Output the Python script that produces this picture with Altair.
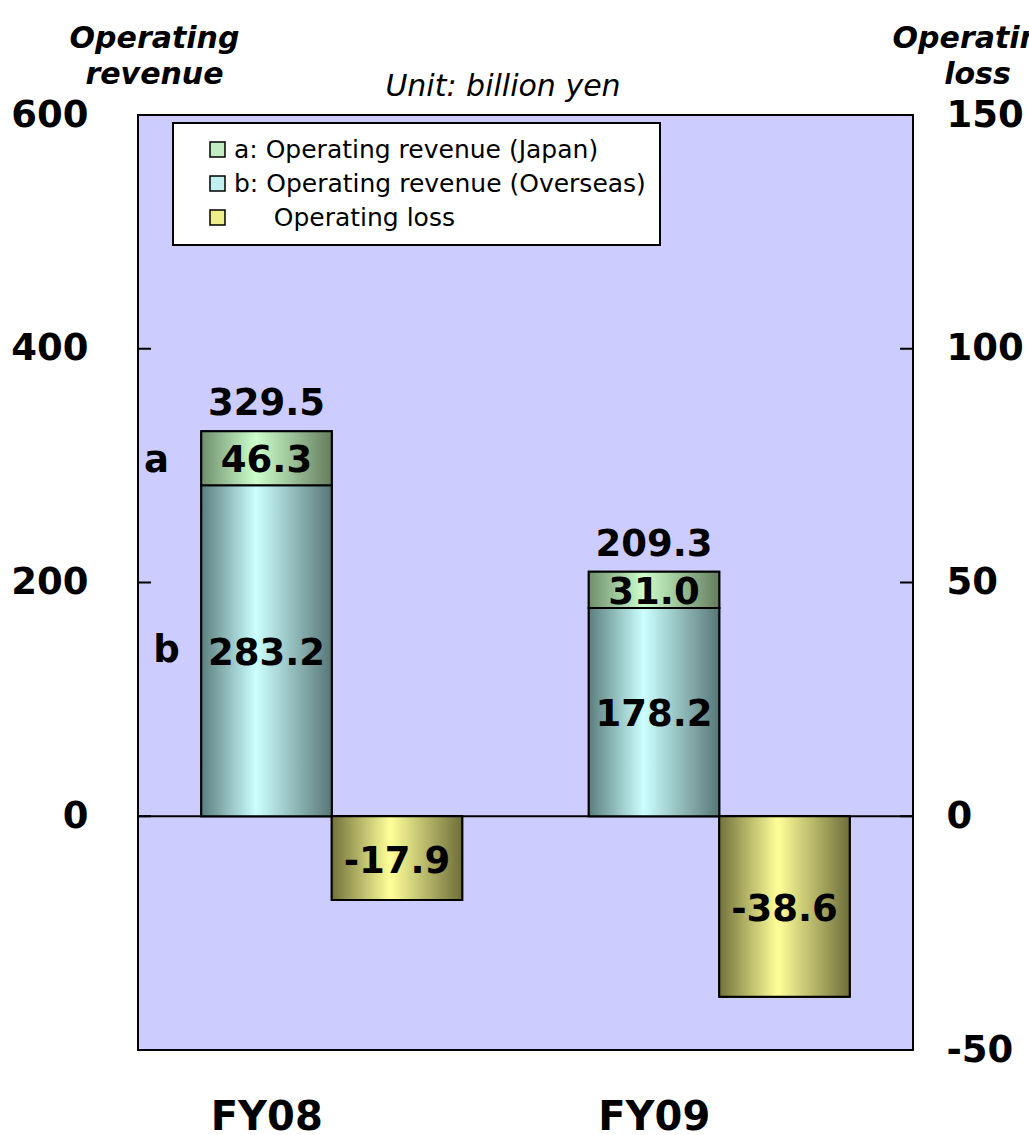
import altair as alt
import pandas as pd

# ---- figures (billion yen) ----
years = ["FY08", "FY09"]
revenue_japan = [46.3, 31.0]
revenue_overseas = [283.2, 178.2]
revenue_total = [329.5, 209.3]
operating_loss = [-17.9, -38.6]

series_names = [
    "a: Operating revenue (Japan)",
    "b: Operating revenue (Overseas)",
    "Operating loss",
]
swatch_colors = ["#c2ecc2", "#c2f0f0", "#eeee8a"]
segment_tags = ["a", "b"]
unit_note = ["Unit: billion yen"]

left_ticks = [0, 200, 400, 600]
right_ticks = [-50, 0, 50, 100, 150]
left_domain = [-200, 600]
right_domain = [-50, 150]

FONT = "DejaVu Sans"
W, H = 775, 935

# ---- tables ----
rev = pd.DataFrame({
    "year": years + years,
    "series": [series_names[1]] * 2 + [series_names[0]] * 2,
    "slot": ["rev"] * 4,
    "start": [0, 0] + revenue_overseas,
    "end": revenue_overseas + revenue_total,
    "value": revenue_overseas + revenue_japan,
})
rev["mid"] = (rev["start"] + rev["end"]) / 2
rev["label"] = rev["value"].map(lambda v: f"{v:.1f}")
overseas_df = rev[rev["series"] == series_names[1]]
japan_df = rev[rev["series"] == series_names[0]]

tot = pd.DataFrame({"year": years, "slot": ["rev"] * 2, "total": revenue_total})
tot["label"] = tot["total"].map(lambda v: f"{v:.1f}")

loss = pd.DataFrame({
    "year": years,
    "series": [series_names[2]] * 2,
    "slot": ["loss"] * 2,
    "start": [0, 0],
    "end": operating_loss,
})
loss["mid"] = loss["end"] / 2
loss["label"] = loss["end"].map(lambda v: f"{v:.1f}")

first = rev[rev["year"] == years[0]].set_index("series")
tags = pd.DataFrame({
    "tag": segment_tags,
    "year": [years[0]] * 2,
    "slot": ["rev"] * 2,
    "mid": [first.loc[series_names[0], "mid"], first.loc[series_names[1], "mid"]],
})

zero_df = pd.DataFrame({"v": [0]})
left_tick_df = pd.DataFrame({"v": left_ticks})
right_tick_df = pd.DataFrame({"v": right_ticks})
note_df = pd.DataFrame({"note": unit_note})

# ---- scales, axes, legend ----
x_axis = alt.Axis(
    title=None, labelAngle=0, ticks=False, tickSize=0, domain=False, grid=False,
    labelFont=FONT, labelFontSize=40, labelFontWeight="bold", labelColor="black",
    labelPadding=47, labelOffset=-65,
)
x_scale = alt.Scale(domain=years, paddingInner=0, paddingOuter=0)
xo_scale = alt.Scale(domain=["rev", "loss"], paddingInner=0, paddingOuter=0.485)


def x_enc():
    return alt.X("year:N", scale=x_scale, axis=x_axis)


def xo_enc():
    return alt.XOffset("slot:N", scale=xo_scale)


axis_common = dict(
    ticks=False, tickSize=0, domain=False, grid=False, labelFlush=False,
    labelFont=FONT, labelFontSize=37, labelFontWeight="bold", labelColor="black",
    labelExpr="replace(datum.label, '\u2212', '-')",
    titleAngle=0, titleAlign="center", titleBaseline="alphabetic",
    titleFont=FONT, titleFontSize=30, titleFontStyle="italic", titleFontWeight="bold",
    titleColor="black", titleLineHeight=36, titleY=-68, format="d",
)
left_axis = alt.Axis(values=left_ticks, title=["Operating", "revenue"],
                     labelPadding=50, titleX=16, **axis_common)
right_axis = alt.Axis(values=right_ticks, title=["Operating", "loss"], orient="right",
                      labelPadding=33, titleX=64, **axis_common)
left_scale = alt.Scale(domain=left_domain, nice=False, zero=False)
right_scale = alt.Scale(domain=right_domain, nice=False, zero=False)


def ly(field):
    return alt.Y(field, scale=left_scale, axis=left_axis)


def ry(field):
    return alt.Y(field, scale=right_scale, axis=right_axis)


# the loss entry sits further right in the key; a zero-width space keeps the
# non-breaking spaces from being trimmed away
color_scale = alt.Scale(domain=series_names, range=swatch_colors)
legend = alt.Legend(
    title=None, orient="none", legendX=35, legendY=8, direction="vertical",
    fillColor="white", strokeColor="black", padding=14,
    symbolType="square", symbolSize=225, symbolStrokeColor="black",
    symbolStrokeWidth=1.5, symbolOffset=18, labelOffset=4,
    labelFont=FONT, labelFontSize=25, labelColor="black", labelLimit=1000,
    rowPadding=8,
    labelExpr=("datum.label == 'Operating loss' ? "
               "'\u200b\u00a0\u00a0\u00a0\u00a0\u00a0Operating loss' : datum.label"),
)
color_enc = alt.Color("series:N", scale=color_scale, legend=legend)


def shade(dark_l, light, dark_r, mid=0.42):
    return alt.Gradient(
        gradient="linear", x1=0, x2=1, y1=0, y2=0,
        stops=[
            alt.GradientStop(offset=0, color=dark_l),
            alt.GradientStop(offset=mid, color=light),
            alt.GradientStop(offset=1, color=dark_r),
        ],
    )


grad_japan = shade("#6f8f6c", "#ccffcc", "#657d5e")
grad_overseas = shade("#5b7e7e", "#ccffff", "#587777")
grad_loss = shade("#72723c", "#ffff99", "#6e6e3a", mid=0.45)

bar_style = dict(stroke="black", strokeWidth=2)
num_style = dict(font=FONT, fontSize=37, fontWeight="bold", color="black")

# ---- revenue side (left axis) ----
zero_line = alt.Chart(zero_df).mark_rule(color="black", strokeWidth=2).encode(y=ly("v:Q"))
left_tick_marks = alt.Chart(left_tick_df).mark_rule(color="black", strokeWidth=2).encode(
    y=ly("v:Q"), x=alt.value(0), x2=alt.value(13))

rev_flat = alt.Chart(rev).mark_bar(**bar_style).encode(
    x=x_enc(), xOffset=xo_enc(), y=ly("start:Q"), y2="end:Q", color=color_enc)
overseas_bars = alt.Chart(overseas_df).mark_bar(fill=grad_overseas, **bar_style).encode(
    x=x_enc(), xOffset=xo_enc(), y=ly("start:Q"), y2="end:Q")
japan_bars = alt.Chart(japan_df).mark_bar(fill=grad_japan, **bar_style).encode(
    x=x_enc(), xOffset=xo_enc(), y=ly("start:Q"), y2="end:Q")
segment_text = alt.Chart(rev).mark_text(baseline="middle", dy=3, **num_style).encode(
    x=x_enc(), xOffset=xo_enc(), y=ly("mid:Q"), text="label:N")
total_text = alt.Chart(tot).mark_text(baseline="alphabetic", dy=-16, **num_style).encode(
    x=x_enc(), xOffset=xo_enc(), y=ly("total:Q"), text="label:N")
tag_a = alt.Chart(tags[tags["tag"] == "a"]).mark_text(baseline="middle", dx=-110, dy=3, **num_style).encode(
    x=x_enc(), xOffset=xo_enc(), y=ly("mid:Q"), text="tag:N")
tag_b = alt.Chart(tags[tags["tag"] == "b"]).mark_text(baseline="middle", dx=-100, **num_style).encode(
    x=x_enc(), xOffset=xo_enc(), y=ly("mid:Q"), text="tag:N")
note = alt.Chart(note_df).mark_text(
    font=FONT, fontSize=30, fontStyle="italic", color="black",
    align="center", baseline="alphabetic",
).encode(x=alt.value(365), y=alt.value(-19), text="note:N")

left_side = alt.layer(zero_line, left_tick_marks, rev_flat, overseas_bars, japan_bars,
                      segment_text, total_text, tag_a, tag_b, note)

# ---- loss side (right axis) ----
right_tick_marks = alt.Chart(right_tick_df).mark_rule(color="black", strokeWidth=2).encode(
    y=ry("v:Q"), x=alt.value(W - 13), x2=alt.value(W))
loss_flat = alt.Chart(loss).mark_bar(**bar_style).encode(
    x=x_enc(), xOffset=xo_enc(), y=ry("start:Q"), y2="end:Q", color=color_enc)
loss_bars = alt.Chart(loss).mark_bar(fill=grad_loss, **bar_style).encode(
    x=x_enc(), xOffset=xo_enc(), y=ry("start:Q"), y2="end:Q")
loss_text = alt.Chart(loss).mark_text(baseline="middle", dy=4, **num_style).encode(
    x=x_enc(), xOffset=xo_enc(), y=ry("mid:Q"), text="label:N")

right_side = alt.layer(right_tick_marks, loss_flat, loss_bars, loss_text)

chart = (
    alt.layer(left_side, right_side)
    .resolve_scale(y="independent")
    .properties(
        width=W, height=H,
        autosize=alt.AutoSizeParams(type="none"),
        padding={"left": 138, "top": 115, "right": 116, "bottom": 85},
        background="white",
    )
    .configure_view(fill="#ccccff", stroke="black", strokeWidth=2)
    .configure_legend(strokeWidth=2)
)

chart.save("out.html", embed_options={"renderer": "svg", "actions": False})
